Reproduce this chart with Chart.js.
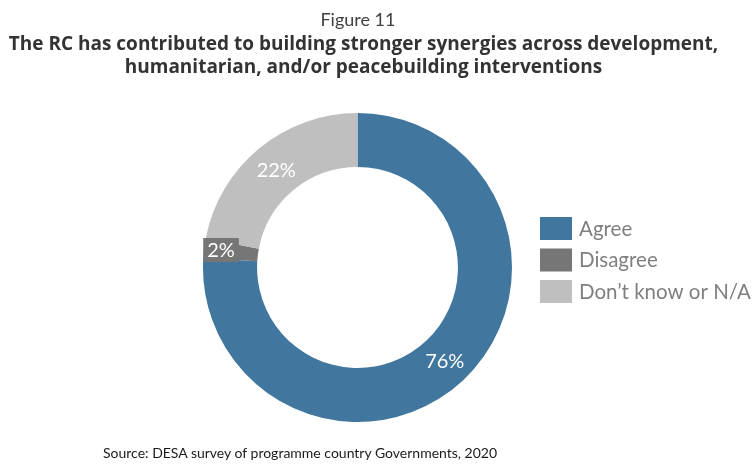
<!DOCTYPE html>
<html>
<head>
<meta charset="utf-8">
<script src="https://cdn.jsdelivr.net/npm/chart.js@4.4.1/dist/chart.umd.min.js"></script>
<style>
  html, body { margin: 0; padding: 0; background: #fff; width: 755px; height: 464px; overflow: hidden; }
  #wrap { position: relative; width: 755px; height: 464px; }
  canvas { position: absolute; left: 0; top: 0; }
  .t { position: absolute; left: 0; width: 755px; text-align: center; font-family: Lato, "Open Sans", sans-serif; white-space: nowrap; }
  #fig { top: 8px; left: 0; width: 716px; font-size: 18px; color: #404040; }
  #title { top: 32px; left: 0; width: 727px; font-family: "Open Sans", sans-serif; font-size: 19px; font-weight: bold; color: #333333; line-height: 23px; }
  #src { top: 444px; left: 103px; width: auto; text-align: left; font-size: 14px; color: #1a1a1a; }
</style>
</head>
<body>
<div id="wrap">
  <canvas id="c" width="755" height="464"></canvas>
  <div class="t" id="fig">Figure 11</div>
  <div class="t" id="title">The RC has contributed to building stronger synergies across development,<br>humanitarian, and/or peacebuilding interventions</div>
  <div class="t" id="src">Source: DESA survey of programme country Governments, 2020</div>
</div>
<script>
const categories = ["Agree", "Disagree", "Don\u2019t know or N/A"];
const values = [76, 2, 22];
const colors = ["#41769F", "#767676", "#BFBFBF"];

const labelPlugin = {
  id: 'sliceLabels',
  afterDatasetsDraw(chart) {
    const ctx = chart.ctx;
    const meta = chart.getDatasetMeta(0);
    ctx.save();
    ctx.font = '20px Lato, "Open Sans", sans-serif';
    ctx.textAlign = 'center';
    ctx.textBaseline = 'middle';
    meta.data.forEach((arc, i) => {
      const p = arc.tooltipPosition();
      const txt = values[i] + '%';
      let x = p.x, y = p.y;
      if (i === 1) {
        x = p.x - 10; y = p.y - 1.5;
        const w = ctx.measureText(txt).width + 8;
        ctx.fillStyle = colors[1];
        ctx.fillRect(x - w / 2, y - 12, w, 24);
      }
      ctx.fillStyle = '#ffffff';
      ctx.fillText(txt, x, y + 1);
    });
    ctx.restore();
  }
};

const legendPlugin = {
  id: 'customLegend',
  afterDraw(chart) {
    const ctx = chart.ctx;
    ctx.save();
    ctx.font = '20.5px Lato, "Open Sans", sans-serif';
    ctx.textBaseline = 'middle';
    ctx.textAlign = 'left';
    chart.data.labels.forEach((lab, i) => {
      const y = 217 + i * 31.5;
      ctx.fillStyle = chart.data.datasets[0].backgroundColor[i];
      ctx.fillRect(540, y, 32, 23);
      ctx.fillStyle = '#7F7F7F';
      ctx.fillText(lab, 579, y + 12);
    });
    ctx.restore();
  }
};

new Chart(document.getElementById('c'), {
  type: 'doughnut',
  data: {
    labels: categories,
    datasets: [{
      data: values,
      backgroundColor: colors,
      borderWidth: 0,
      hoverOffset: 0
    }]
  },
  options: {
    responsive: false,
    animation: false,
    cutout: '65%',
    layout: { padding: { left: 203, right: 243, top: 113, bottom: 42 } },
    plugins: {
      legend: { display: false },
      tooltip: { enabled: false },
      title: { display: false }
    }
  },
  plugins: [labelPlugin, legendPlugin]
});
</script>
</body>
</html>
